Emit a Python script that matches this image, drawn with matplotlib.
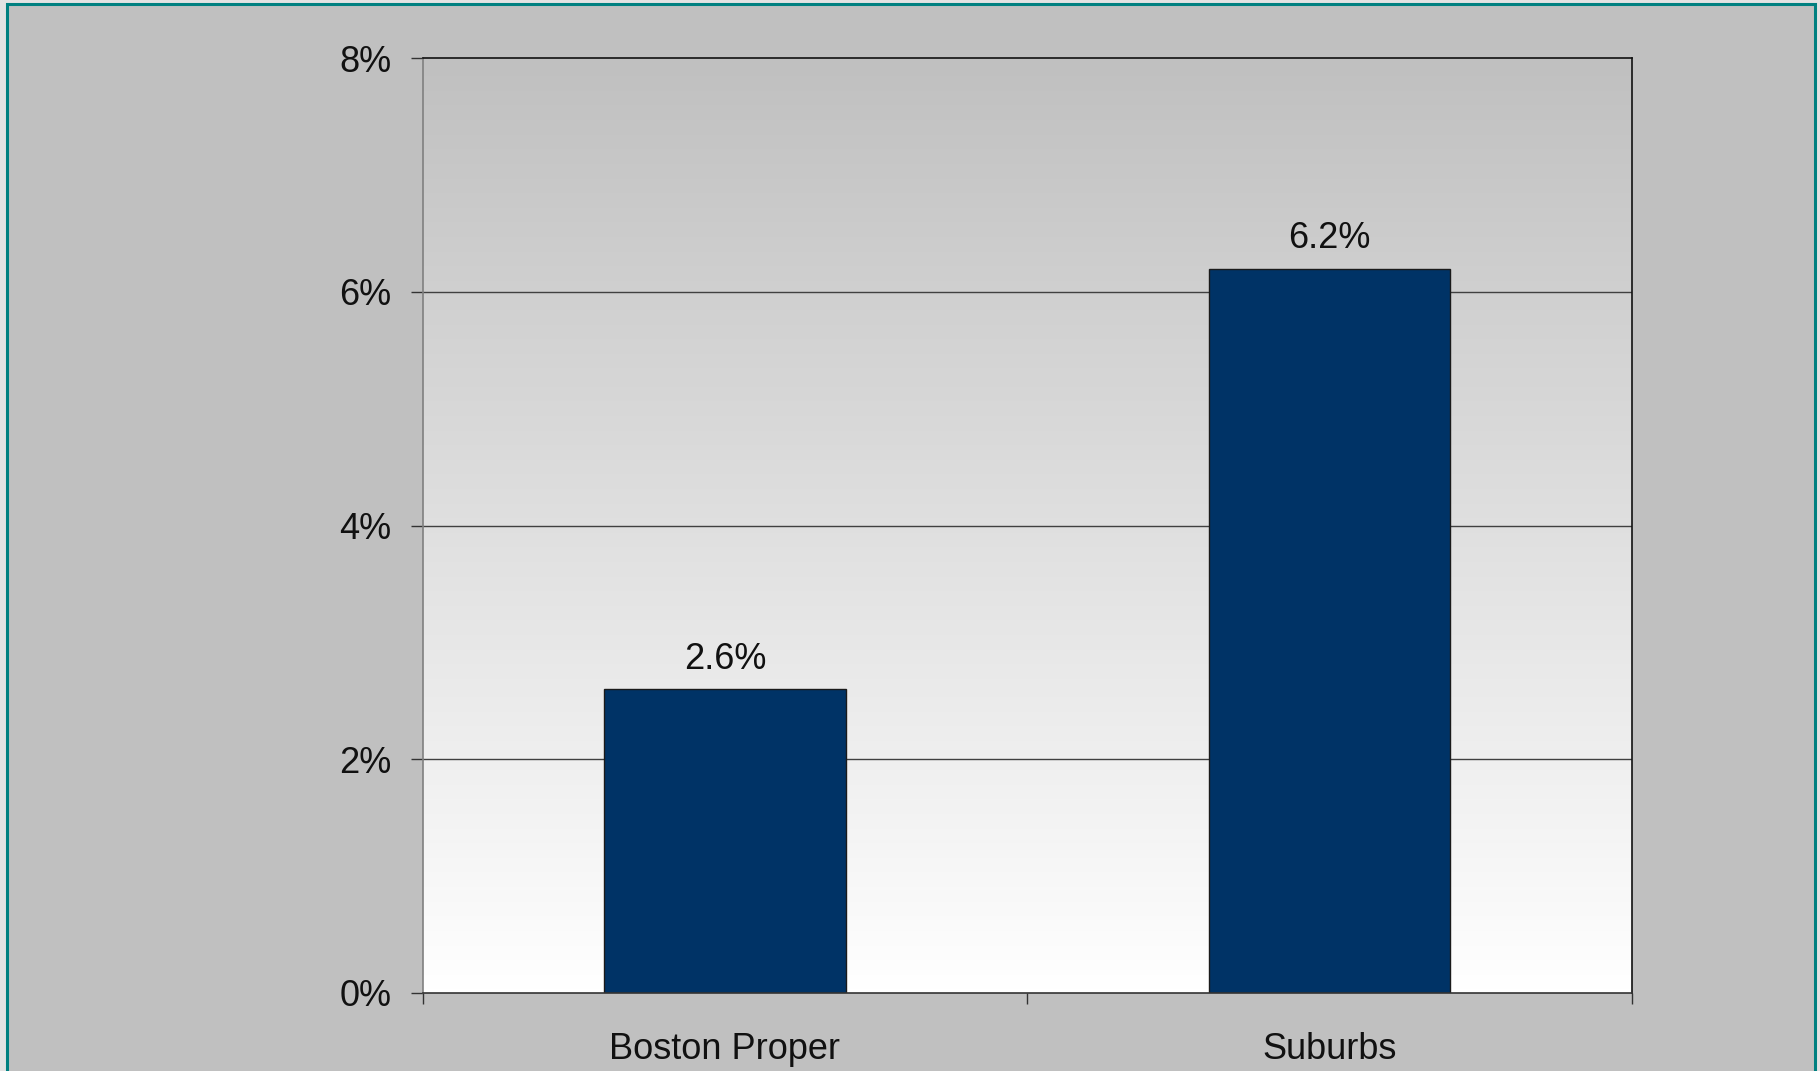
import numpy as np
import matplotlib
matplotlib.use("Agg")
import matplotlib.pyplot as plt
from matplotlib.patches import Rectangle
from matplotlib.ticker import FixedLocator, FuncFormatter

categories = ["Boston Proper", "Suburbs"]
values = [2.6, 6.2]
yticks = [0, 2, 4, 6, 8]

plt.rcParams['font.family'] = ['Liberation Sans', 'DejaVu Sans']

fig = plt.figure(figsize=(18.2, 10.71), dpi=100)
fig.patch.set_facecolor('#e3e3e3')

W, H = 1820, 1071
# outer framed panel
fig.patches.append(Rectangle((7.3 / W, -0.05), (1815.3 - 7.3) / W, (H - 3.7) / H + 0.05,
                             transform=fig.transFigure, facecolor='#c0c0c0',
                             edgecolor='#008080', linewidth=2.2, zorder=-5))

ax = fig.add_axes([422.7 / W, 78 / H, (1631.7 - 422.7) / W, (993 - 58.3) / H])
ax.set_zorder(2)
ax.set_facecolor('none')
ax.set_xlim(-0.5, 1.5)
ax.set_ylim(0, 8)

# gradient background
grad = np.linspace(1.0, 0.0, 256).reshape(-1, 1)
top = np.array([0xc0, 0xc0, 0xc0]) / 255
bot = np.array([1.0, 1.0, 1.0])
img = top[None, None, :] * grad[:, :, None] + bot[None, None, :] * (1 - grad[:, :, None])
ax.imshow(img, extent=[-0.5, 1.5, 0, 8], aspect='auto', zorder=0, origin='upper')

for y in yticks[1:-1]:
    ax.axhline(y, color='#404040', linewidth=1.0, zorder=1)

x = np.arange(len(categories))
bars = ax.bar(x, values, width=0.4, color='#003366', edgecolor='#1a1a1a', linewidth=1.0, zorder=2)

for xi, v in zip(x, values):
    ax.annotate(f"{v:.1f}%", (xi, v), xytext=(0, 9), textcoords='offset points',
                ha='center', va='bottom', fontsize=26, color='#111111')

ax.yaxis.set_major_locator(FixedLocator(yticks))
ax.yaxis.set_major_formatter(FuncFormatter(lambda v, p: f"{int(v)}%"))
ax.tick_params(axis='y', length=8.5, width=1.0, color='#333333', pad=14, labelsize=26, labelcolor='#111111')

ax.set_xticks(x)
ax.set_xticklabels(categories)
ax.set_xticks([-0.5, 0.5, 1.5], minor=True)
ax.tick_params(axis='x', which='major', length=0, pad=28, labelsize=26, labelcolor='#111111')
ax.tick_params(axis='x', which='minor', length=8, width=1.0, color='#333333')

ax.spines['left'].set_color('#808080')
ax.spines['bottom'].set_color('#333333')
ax.spines['top'].set_color('#111111')
ax.spines['right'].set_color('#111111')
for s in ax.spines.values():
    s.set_linewidth(1.2)
    s.set_zorder(3)

fig.savefig("out.png", dpi=100, facecolor=fig.get_facecolor())
